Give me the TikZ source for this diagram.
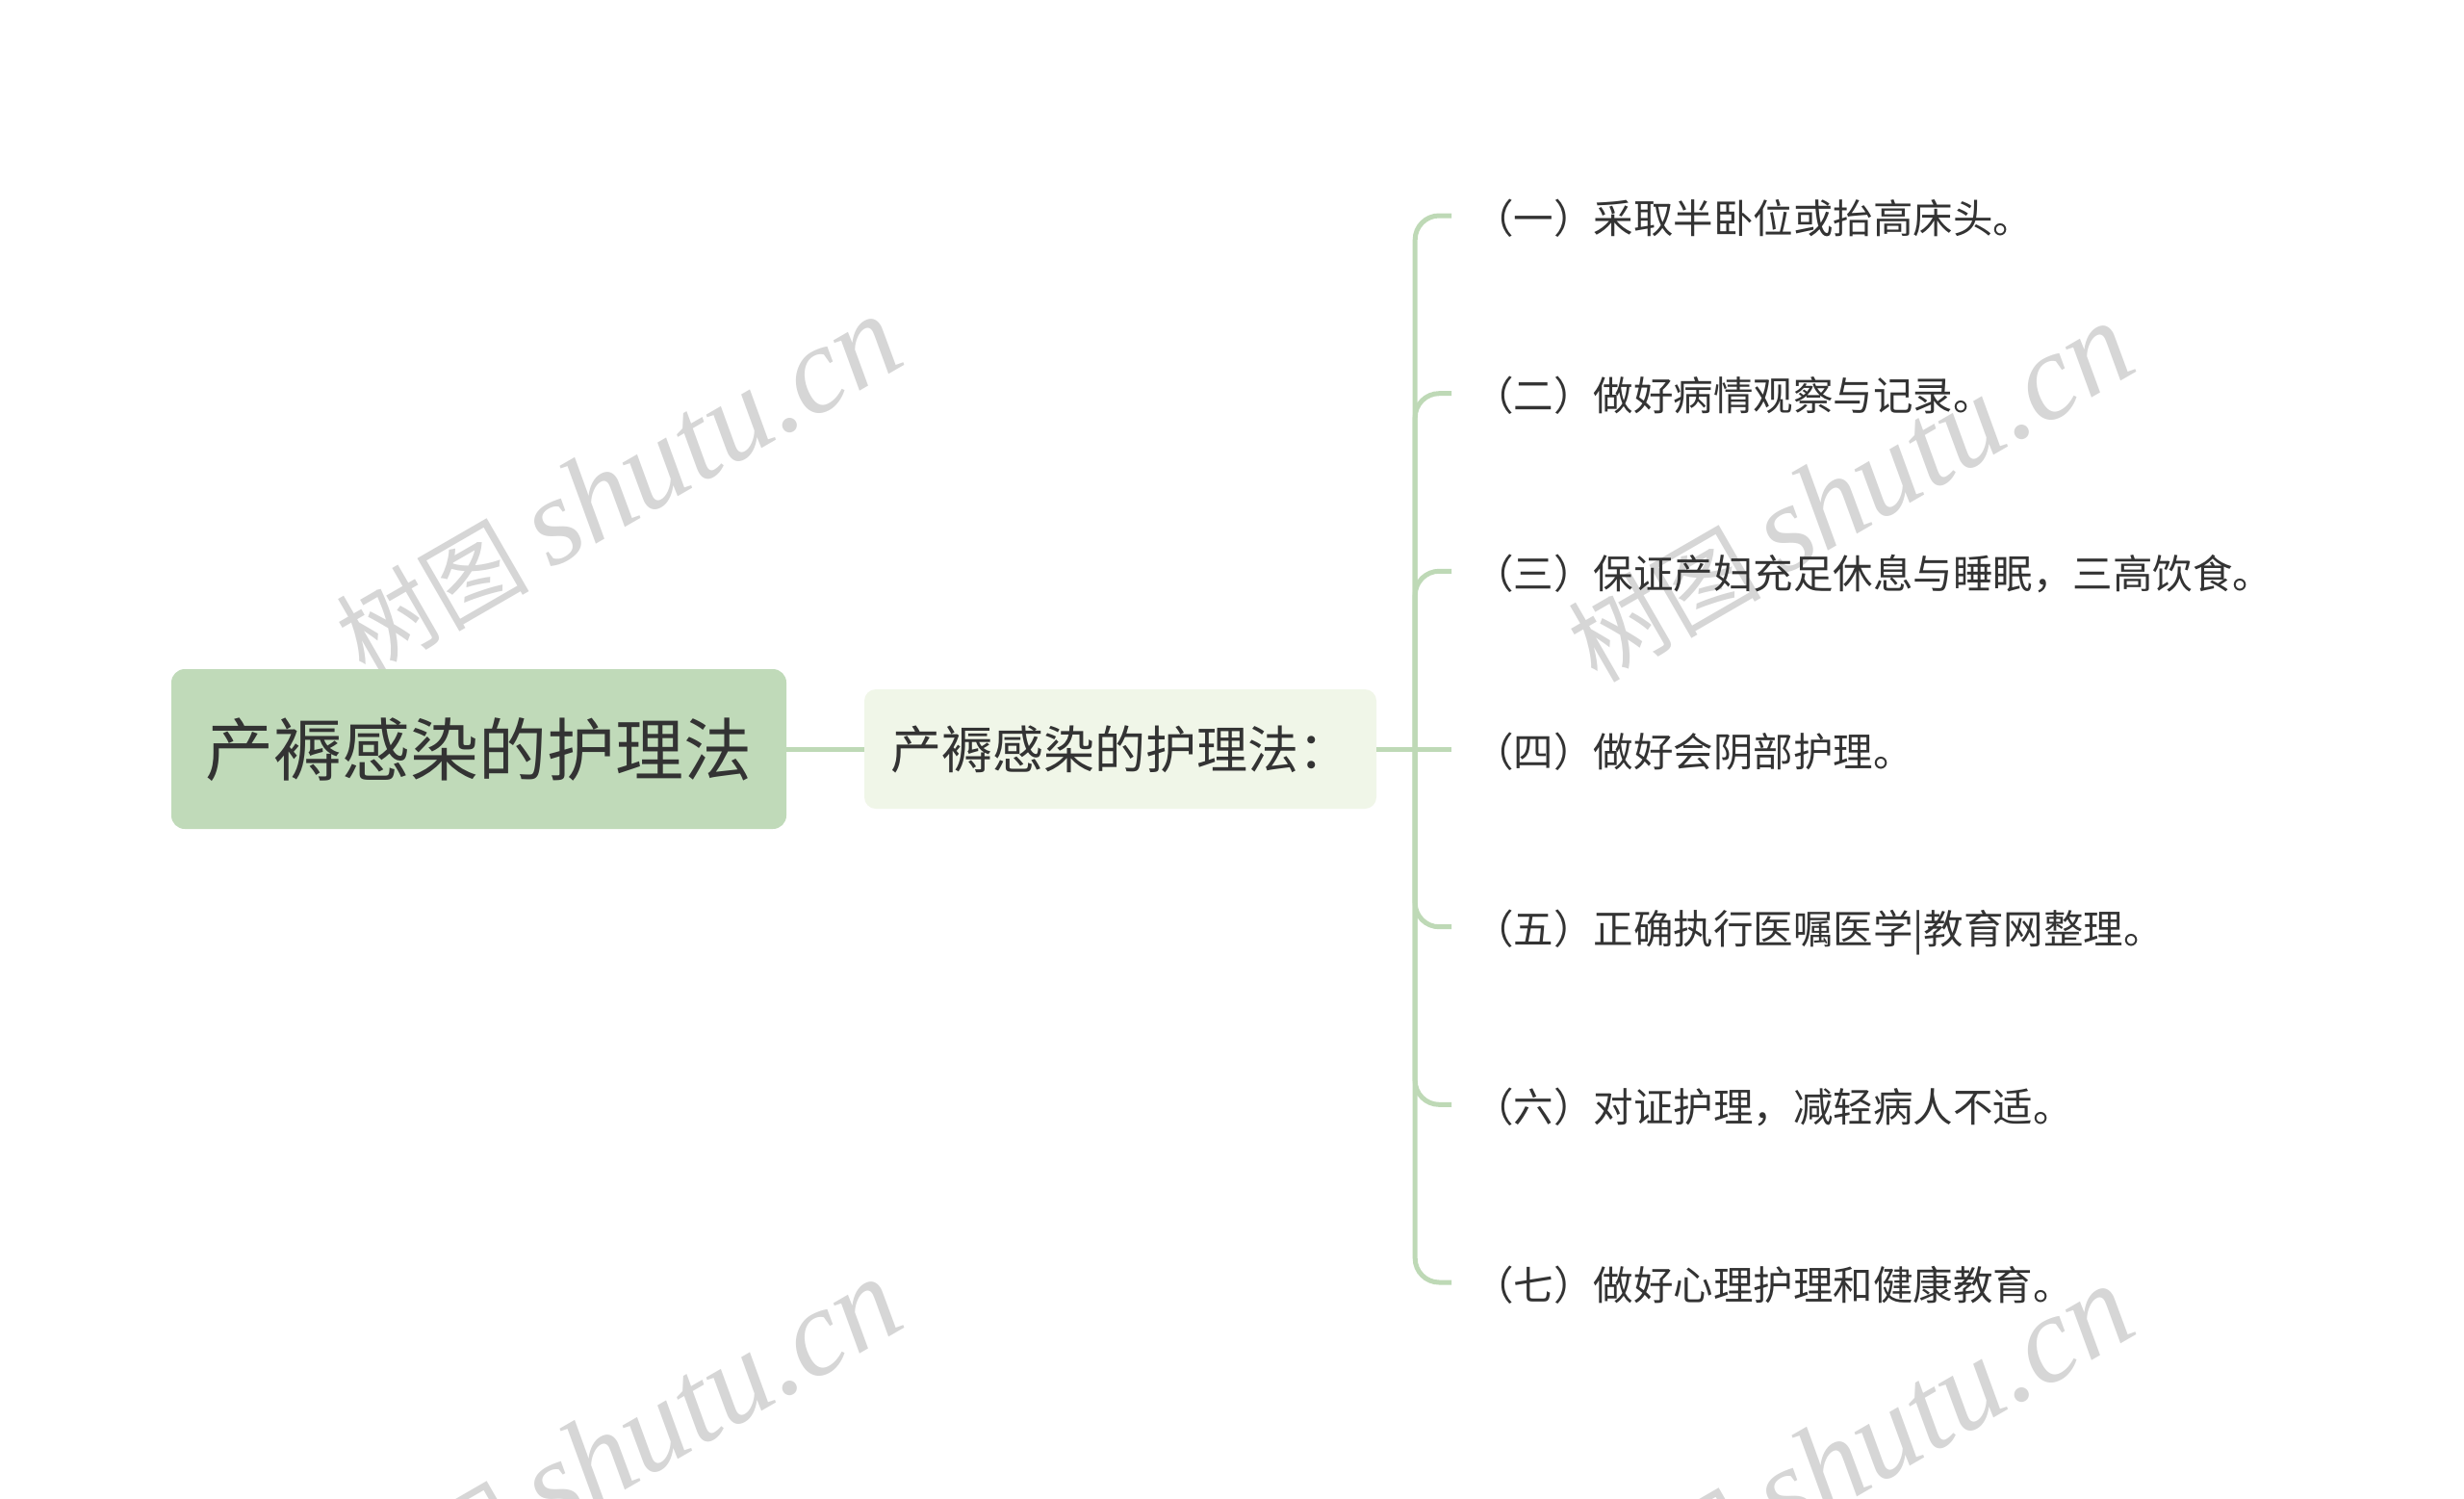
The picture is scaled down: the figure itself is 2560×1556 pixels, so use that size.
\documentclass[tikz,border=0pt]{standalone}
\usepackage{fontspec}
\setmainfont{Noto Sans CJK SC}
\newfontfamily\wmlat{Liberation Serif}
\definecolor{rootfill}{RGB}{192,218,185}
\definecolor{subfill}{RGB}{240,246,232}
\definecolor{linec}{RGB}{190,217,182}
\definecolor{txt}{RGB}{51,51,51}
\definecolor{wm}{RGB}{214,214,214}
\tikzset{
  rootbox/.style={fill=rootfill, rounded corners=14pt, inner sep=0pt, minimum width=639pt, minimum height=166pt,
    font=\fontsize{71pt}{80pt}\selectfont, text=txt, text height=62.5pt, text depth=8.5pt},
  subbox/.style={fill=subfill, rounded corners=12pt, inner sep=0pt, minimum width=532pt, minimum height=124pt,
    font=\fontsize{53pt}{60pt}\selectfont, text=txt, text height=46.6pt, text depth=6.4pt},
  itembox/.style={anchor=west, inner xsep=23pt, inner ysep=0pt,
    font=\fontsize{41.5pt}{48pt}\selectfont, text=txt, text height=41.5pt, text depth=5pt},
  conn/.style={draw=linec, line width=5pt},
  branch/.style={draw=linec, line width=5pt, rounded corners=25pt},
  watermark/.style={rotate=30, text=wm, font=\fontsize{100pt}{120pt}\selectfont, inner sep=0pt}
}
\newcommand{\wmtext}{树图 {\wmlat\itshape\fontsize{128pt}{140pt}\selectfont shutu.cn}}
\begin{document}
\begin{tikzpicture}[x=1pt,y=-1pt]
\useasboundingbox (0,0) rectangle (2560,1556);
\fill[white] (0,0) rectangle (2560,1556);
% watermarks
\node[watermark] (wm1) at (642,505) {\wmtext};
\node[watermark] (wm2) at (1922,512) {\wmtext};
\node[watermark] (wm3) at (642,1505) {\wmtext};
\node[watermark] (wm4) at (1922,1512) {\wmtext};
% nodes
\node[rootbox] (root) at (497.5,778) {产褥感染的护理法};
\node[subbox] (sub) at (1164,778) {产褥感染的护理法：};
\node[itembox] (t1) at (1508,224) {（一）采取半卧位或抬高床头。};
\node[itembox] (t2) at (1508,408.7) {（二）做好病情观察与记录。};
\node[itembox] (t3) at (1508,593.3) {（三）保证产妇充足休息与睡眠，三高饮食。};
\node[itembox] (t4) at (1508,778) {（四）做好会阴部护理。};
\node[itembox] (t5) at (1508,962.7) {（五）正确执行医嘱医学|教育网整理。};
\node[itembox] (t6) at (1508,1147.3) {（六）对证护理，减轻病人不适。};
\node[itembox] (t7) at (1508,1332) {（七）做好心理护理和健康教育。};
\coordinate (jn) at ([xshift=40pt]sub.east);
% connectors
\draw[conn] (root.east) -- (sub.west);
\draw[conn] (sub.east) -- (t4.west);
\foreach \i in {1,2,3,5,6,7}{
  \draw[branch] (jn) |- (t\i.west);
}
\end{tikzpicture}
\end{document}
